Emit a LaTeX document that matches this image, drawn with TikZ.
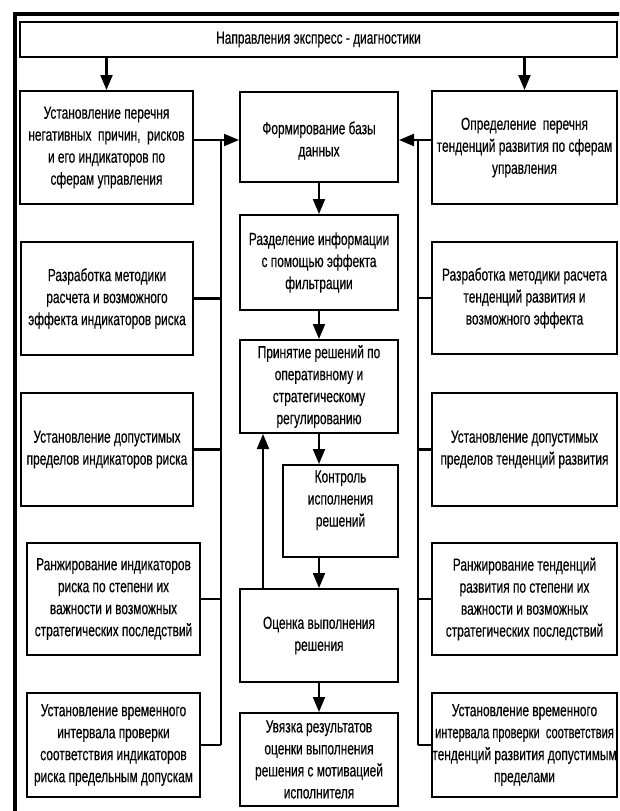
\documentclass[tikz,border=0pt]{standalone}
\usepackage{fontspec}
\setmainfont{Liberation Sans}[FakeStretch=0.68, FakeBold=0.3]
\usetikzlibrary{arrows.meta}
\begin{document}
\begin{tikzpicture}[x=1pt,y=-1pt,
  box/.style={draw=black, line width=2pt, fill=white, inner sep=0pt, align=center,
    font=\fontsize{17.5}{22}\selectfont},
  conn/.style={line width=2.1pt},
  arr/.style={line width=2.1pt, -{Triangle[length=15pt,width=12pt]}},
  frame/.style={line width=4pt}
]
\useasboundingbox (0,0) rectangle (619,811);
\clip (0,0) rectangle (619,811);
\fill[white] (0,0) rectangle (619,811);
\draw[frame] (15,840) -- (15,14) -- (650,14);

% top
\node[box, minimum width=597pt, minimum height=35pt] (top) at (318.5,39.5) {Направления экспресс - диагностики};

% left column
\node[box, minimum width=173pt, minimum height=113pt] (L1) at (106.5,147.5) {Установление перечня\\негативных\ \ причин,\ \ рисков\\и его индикаторов по\\сферам управления};
\node[box, minimum width=172pt, minimum height=113pt] (L2) at (107,298.5) {Разработка методики\\расчета и возможного\\эффекта индикаторов риска};
\node[box, minimum width=172pt, minimum height=113pt] (L3) at (107,449.5) {Установление допустимых\\пределов индикаторов риска};
\node[box, minimum width=173pt, minimum height=112pt] (L4) at (113.5,599) {Ранжирование индикаторов\\риска по степени их\\важности и возможных\\стратегических последствий};
\node[box, minimum width=173pt, minimum height=104pt] (L5) at (113.5,745) {Установление временного\\интервала проверки\\соответствия индикаторов\\риска предельным допускам};

% center column
\node[box, minimum width=158pt, minimum height=90pt] (F) at (319,137) {\rule{0pt}{20pt}Формирование базы\\данных};
\node[box, minimum width=158pt, minimum height=95pt] (S) at (319,262.5) {Разделение информации\\с помощью эффекта\\фильтрации};
\node[box, minimum width=158pt, minimum height=93pt] (P) at (319,386.5) {Принятие решений по\\оперативному и\\стратегическому\\регулированию};
\node[box, minimum width=115pt, minimum height=92pt] (K) at (340.5,511) {Контроль\\исполнения\\решений\rule[-25pt]{0pt}{25pt}};
\node[box, minimum width=158pt, minimum height=93pt] (O) at (319,635.5) {Оценка выполнения\\решения};
\node[box, minimum width=158pt, minimum height=93pt] (U) at (319,759.5) {Увязка результатов\\оценки выполнения\\решения с мотивацией\\исполнителя};

% right column
\node[box, minimum width=185pt, minimum height=113pt] (R1) at (524.5,147.5) {Определение\ \ перечня\\тенденций развития по сферам\\управления};
\node[box, minimum width=185pt, minimum height=112pt] (R2) at (524.5,298) {Разработка методики расчета\\тенденций развития и\\возможного эффекта};
\node[box, minimum width=185pt, minimum height=113pt] (R3) at (524.5,449.5) {Установление допустимых\\пределов тенденций развития};
\node[box, minimum width=185pt, minimum height=112pt] (R4) at (524.5,599) {Ранжирование тенденций\\развития по степени их\\важности и возможных\\стратегических последствий};
\node[box, minimum width=185pt, minimum height=104pt] (R5) at (524.5,745) {Установление временного\\\scalebox{0.93}[1]{интервала проверки\ \ соответствия}\\тенденций развития допустимым\\пределами};

% helper coordinates
\coordinate (lb) at (221,0);
\coordinate (rb) at (418,0);
\coordinate (fy) at (0,140);
\coordinate (fb) at (263,0);

% top arrows
\draw[arr] (L1.north |- top.south) -- (L1.north);
\draw[arr] (R1.north |- top.south) -- (R1.north);

% into F
\draw[arr] (L1.east |- fy) -- (F.west |- fy);
\draw[arr] (R1.west |- fy) -- (F.east |- fy);

% left bus
\draw[conn] (lb |- fy) -- (lb |- L5.east);
\draw[conn] (L2.east) -- (lb |- L2.east);
\draw[conn] (L3.east) -- (lb |- L3.east);
\draw[conn] (L4.east) -- (lb |- L4.east);
\draw[conn] (L5.east) -- (lb |- L5.east);

% right bus
\draw[conn] (rb |- fy) -- (rb |- R5.west);
\draw[conn] (R2.west) -- (rb |- R2.west);
\draw[conn] (R3.west) -- (rb |- R3.west);
\draw[conn] (R4.west) -- (rb |- R4.west);
\draw[conn] (R5.west) -- (rb |- R5.west);

% center chain
\draw[arr] (F.south) -- (S.north);
\draw[arr] (S.south) -- (P.north);
\draw[arr] (P.south) -- (P.south |- K.north);
\draw[arr] (O.north |- K.south) -- (O.north);
\draw[arr] (O.south) -- (U.north);
\draw[arr] (fb |- O.north) -- (fb |- P.south);
\end{tikzpicture}
\end{document}
